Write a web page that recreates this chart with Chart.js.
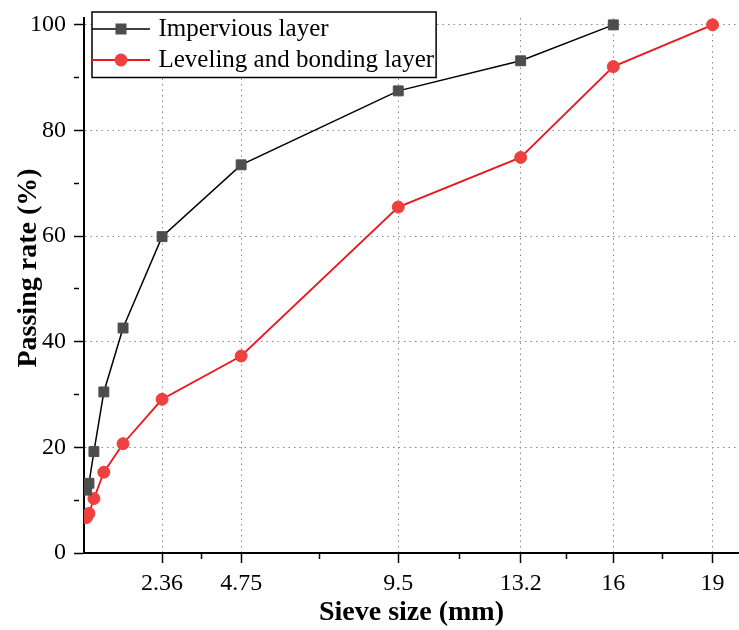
<!DOCTYPE html>
<html>
<head>
<meta charset="utf-8">
<script src="https://cdn.jsdelivr.net/npm/chart.js@4.4.1/dist/chart.umd.min.js"></script>
<style>html,body{margin:0;padding:0;background:#fff}#c{display:block}</style>
</head>
<body>
<canvas id="c" width="739" height="630"></canvas>
<script>
// ---- data ----
const sieveSizes = [0.075, 0.15, 0.3, 0.6, 1.18, 2.36, 4.75, 9.5, 13.2, 16, 19];
const imperviousLayer = [11.9, 13.2, 19.2, 30.5, 42.6, 59.9, 73.5, 87.5, 93.2, 100, null];
const levelingBondingLayer = [6.7, 7.5, 10.3, 15.3, 20.7, 29.1, 37.3, 65.5, 74.9, 92.1, 100];
const seriesNames = ['Impervious layer', 'Leveling and bonding layer'];
const xMajorTicks = [2.36, 4.75, 9.5, 13.2, 16, 19];
const xMinorTicks = [3.555, 7.125, 11.35, 14.6, 17.5];
const yMajorTicks = [0, 20, 40, 60, 80, 100];
const yMinorTicks = [10, 30, 50, 70, 90];

const serif = "'Liberation Serif', 'Times New Roman', serif";
const GRID = '#8a8a8a';
const CLEAR = 'rgba(0,0,0,0)';
const xTickValues = xMajorTicks.concat(xMinorTicks).sort((a, b) => a - b);
const yTickValues = yMajorTicks.concat(yMinorTicks).sort((a, b) => a - b);

function toPoints(ys) {
  return sieveSizes.map((x, i) => ({x: x, y: ys[i]})).filter(p => p.y !== null);
}

function legendSample(lineColor, lineWidth, fill, shape) {
  const c = document.createElement('canvas');
  c.width = 58; c.height = 16;
  const g = c.getContext('2d');
  g.strokeStyle = lineColor; g.lineWidth = lineWidth;
  g.beginPath(); g.moveTo(0, 8); g.lineTo(58, 8); g.stroke();
  g.fillStyle = fill;
  if (shape === 'rect') { g.fillRect(29 - 5.5, 8 - 5.5, 11, 11); }
  else { g.beginPath(); g.arc(29, 8, 6.5, 0, Math.PI * 2); g.fill(); }
  return c;
}
const samples = [
  legendSample('#000000', 1.5, '#4d4d4d', 'rect'),
  legendSample('#e8191e', 1.8, '#ef4040', 'circle')
];

const legendFrame = {
  id: 'legendFrame',
  afterLayout(chart) {
    const lg = chart.legend;
    if (!lg) return;
    const dy = 10.5 - lg.top;
    lg.top += dy; lg.bottom += dy;
    const dx = 90 - lg.left;
    lg.left += dx; lg.right += dx;
    if (!lg._framePatched) {
      const orig = lg.draw;
      lg.draw = function () {
        const hb = this.legendHitBoxes;
        if (hb && hb.length) {
          const l = Math.min(...hb.map(h => h.left)) - 4;
          const t = hb[0].top - 4.5;
          const r = Math.max(...hb.map(h => h.left + h.width)) + 2;
          const last = hb[hb.length - 1];
          const b = last.top + last.height + 5;
          const c = this.ctx;
          c.save();
          c.fillStyle = '#fff'; c.fillRect(l, t, r - l, b - t);
          c.strokeStyle = '#000'; c.lineWidth = 1.5; c.strokeRect(l, t, r - l, b - t);
          c.restore();
        }
        orig.call(this);
      };
      lg._framePatched = true;
    }
  }
};

new Chart(document.getElementById('c').getContext('2d'), {
  type: 'line',
  data: {
    datasets: [
      {
        label: seriesNames[0],
        data: toPoints(imperviousLayer),
        borderColor: '#000000', borderWidth: 1.5, tension: 0,
        pointStyle: 'rect', pointRadius: 7, pointBorderWidth: 1,
        pointBackgroundColor: '#4d4d4d', pointBorderColor: '#4d4d4d'
      },
      {
        label: seriesNames[1],
        data: toPoints(levelingBondingLayer),
        borderColor: '#e8191e', borderWidth: 1.8, tension: 0,
        pointStyle: 'circle', pointRadius: 6, pointBorderWidth: 1,
        pointBackgroundColor: '#ef4040', pointBorderColor: '#ef4040'
      }
    ]
  },
  options: {
    responsive: false,
    animation: false,
    devicePixelRatio: 1,
    layout: {padding: {top: 18, left: 0, right: 0, bottom: 0}, autoPadding: false},
    plugins: {
      tooltip: {enabled: false},
      legend: {
        position: 'chartArea',
        align: 'start',
        labels: {
          usePointStyle: true,
          pointStyleWidth: 50,
          padding: 6,
          color: '#000',
          font: {family: serif, size: 25},
          generateLabels(chart) {
            return chart.data.datasets.map((ds, i) => ({
              text: ds.label, pointStyle: samples[i], datasetIndex: i, hidden: false,
              lineWidth: 0, fontColor: '#000', strokeStyle: CLEAR, fillStyle: CLEAR
            }));
          }
        }
      }
    },
    scales: {
      x: {
        type: 'linear', position: 'bottom', min: 0, max: 19.8,
        afterBuildTicks(s) { s.ticks = xTickValues.map(v => ({value: v})); },
        afterFit(s) { s.height = 77; },
        ticks: {
          autoSkip: false, maxRotation: 0, padding: 6, color: '#000',
          font: {family: serif, size: 24},
          callback(v) { return xMajorTicks.includes(v) ? String(v) : ''; }
        },
        grid: {
          z: -1, lineWidth: 1, tickLength: 10, tickWidth: 1.5, tickColor: '#000',
          color(ctx) { return ctx.tick && xMajorTicks.includes(ctx.tick.value) ? GRID : CLEAR; },
          tickBorderDash(ctx) { return ctx.tick && xMinorTicks.includes(ctx.tick.value) ? [5, 100] : []; }
        },
        border: {display: true, color: '#000', width: 2, dash: [1.5, 4]},
        title: {
          display: true, text: 'Sieve size (mm)', color: '#000',
          font: {family: serif, size: 28, weight: 'bold'},
          padding: {top: 0, bottom: 0}
        }
      },
      y: {
        type: 'linear', min: 0, max: 101.3,
        afterBuildTicks(s) { s.ticks = yTickValues.map(v => ({value: v})); },
        afterFit(s) { s.width = 84; },
        ticks: {
          padding: 8, color: '#000',
          font: {family: serif, size: 24, lineHeight: 0.8},
          callback(v) { return yMajorTicks.includes(v) ? String(v) : ''; }
        },
        grid: {
          z: -1, lineWidth: 1, tickLength: 10, tickWidth: 1.5, tickColor: '#000',
          color(ctx) { return ctx.tick && ctx.tick.value > 0 && yMajorTicks.includes(ctx.tick.value) ? GRID : CLEAR; },
          tickBorderDash(ctx) { return ctx.tick && yMinorTicks.includes(ctx.tick.value) ? [5, 100] : []; }
        },
        border: {display: true, color: '#000', width: 2, dash: [1.5, 4]},
        title: {
          display: true, text: '     Passing rate (%)', color: '#000',
          font: {family: serif, size: 28, weight: 'bold'},
          padding: {top: 12, bottom: 0}
        }
      }
    }
  },
  plugins: [legendFrame]
});
</script>
</body>
</html>
